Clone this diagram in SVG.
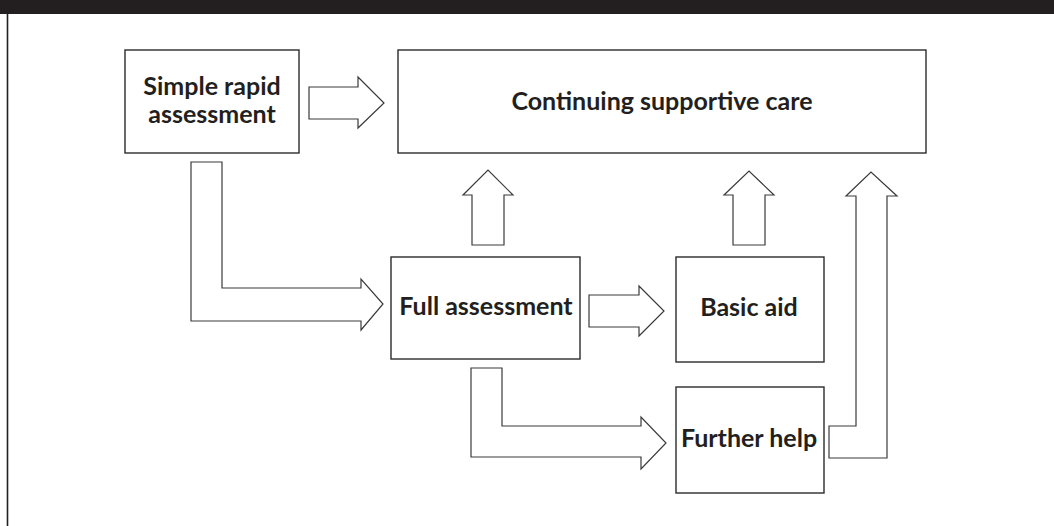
<svg xmlns="http://www.w3.org/2000/svg" width="1054" height="526" viewBox="0 0 1054 526">
<style>
.box{fill:#fff;stroke:#2b2b2b;stroke-width:1.4}
.arr{fill:#fff;stroke:#3a3a3a;stroke-width:1.2;stroke-linejoin:miter}
.t{font-family:Lato,"Open Sans",sans-serif;font-weight:bold;font-size:25px;fill:#231f20;text-anchor:middle}
</style>
<rect x="0" y="0" width="1054" height="14" fill="#231f20"/>
<line x1="7.5" y1="14" x2="7.5" y2="526" stroke="#231f20" stroke-width="1.6"/>
<g id="connectors">
<path class="arr" d="M309,87 H358 V77 L384,103 L358,128 V119 H309 Z"/>
<path class="arr" d="M191,162 H222 V288 H361 V279 L383,304 L361,330 V321 H191 Z"/>
<path class="arr" d="M472,245 V195 H463 L488,170 L513,195 H504 V245 Z"/>
<path class="arr" d="M733,245 V195 H724 L749,171 L774,195 H765 V245 Z"/>
<path class="arr" d="M589,295 H639 V286 L664,311 L639,336 V327 H589 Z"/>
<path class="arr" d="M471,368 H502 V426 H641 V417 L666,443 L641,469 V457 H471 Z"/>
<path class="arr" d="M829,426 H856 V196 H846 L871,172 L897,196 H887 V458 H829 Z"/>
</g>
<g id="simple">
<rect class="box" x="125" y="50" width="174" height="103"/>
<text class="t" x="212" y="95">Simple rapid</text>
<text class="t" x="212" y="123">assessment</text>
</g>
<g id="continuing">
<rect class="box" x="398" y="50" width="528" height="103"/>
<text class="t" x="662" y="110">Continuing supportive care</text>
</g>
<g id="full">
<rect class="box" x="391" y="257" width="189" height="102"/>
<text class="t" x="486" y="315">Full assessment</text>
</g>
<g id="basic">
<rect class="box" x="676" y="257" width="148" height="105"/>
<text class="t" x="749" y="316">Basic aid</text>
</g>
<g id="further">
<rect class="box" x="676" y="387" width="148" height="106"/>
<text class="t" x="749" y="447">Further help</text>
</g>
</svg>
